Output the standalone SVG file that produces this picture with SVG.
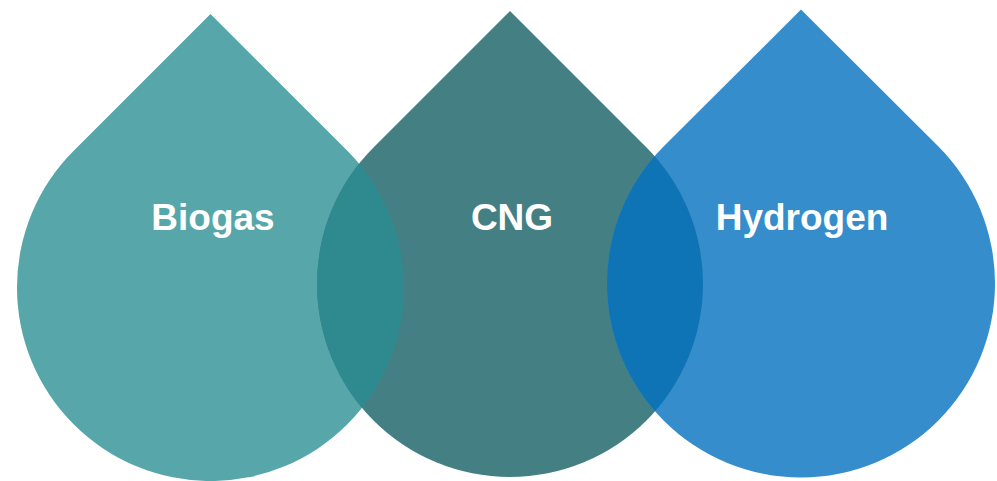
<svg xmlns="http://www.w3.org/2000/svg" width="997" height="481" viewBox="0 0 997 481">
<style>
.lbl{font-family:"Liberation Sans",Arial,sans-serif;font-weight:bold;font-size:37px;fill:#ffffff;text-anchor:middle}
</style>
<defs>
<path id="d1" d="M210.5,13.9 L347.3,150.7 A193.5,193.5 0 1 1 73.7,150.7 Z"/>
<path id="d2" d="M510,11 L646.5,147.5 A193,193 0 1 1 373.5,147.5 Z"/>
<path id="d3" d="M801,9.5 L938.2,146.3 A194,194 0 1 1 663.8,146.3 Z"/>
<clipPath id="c1"><use href="#d1"/></clipPath>
<clipPath id="c3"><use href="#d3"/></clipPath>
</defs>
<rect width="997" height="481" fill="#ffffff"/>
<g id="biogas">
<use href="#d1" fill="#57a6a9"/>
</g>
<g id="cng">
<use href="#d2" fill="#447f84"/>
</g>
<g id="hydrogen">
<use href="#d3" fill="#368dcc"/>
</g>
<g id="overlaps">
<use href="#d2" fill="#2f8a8f" clip-path="url(#c1)"/>
<use href="#d2" fill="#0f74b6" clip-path="url(#c3)"/>
</g>
<g id="labels">
<text class="lbl" x="213" y="230">Biogas</text>
<text class="lbl" x="512" y="230">CNG</text>
<text class="lbl" x="802" y="230">Hydrogen</text>
</g>
<g id="connectors"/>
</svg>
